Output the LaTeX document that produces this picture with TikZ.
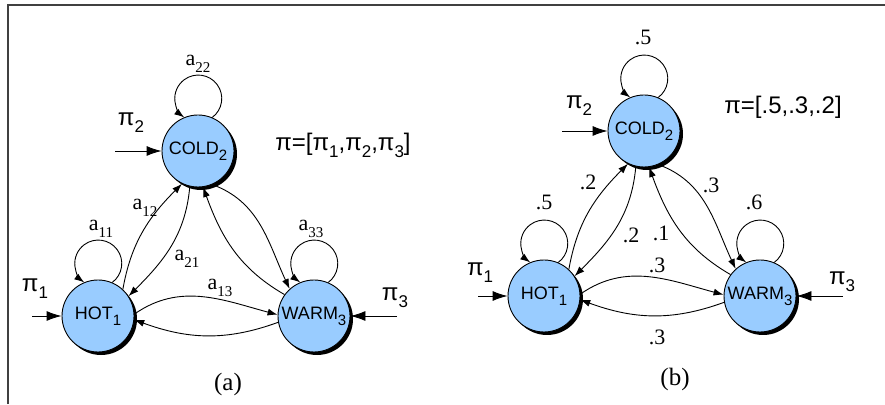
\documentclass[tikz,border=0pt]{standalone}
\usepackage{fontspec}
\setmainfont{Liberation Sans}
\newfontfamily\serif{Liberation Serif}
\usetikzlibrary{arrows.meta,shadows}
\definecolor{stateblue}{HTML}{99CCFF}
\newcommand\nsub[1]{\raisebox{-6pt}{\fontsize{15}{15}\selectfont #1}}
\newcommand\lsub[1]{\raisebox{-7pt}{\fontsize{15}{15}\selectfont #1}}
\newcommand\psub[1]{\raisebox{-7pt}{\fontsize{17}{17}\selectfont #1}}
\begin{document}
\begin{tikzpicture}[x=1pt,y=1pt,
  state/.style={circle,draw,line width=0.9pt,fill=stateblue,minimum size=72pt,inner sep=0pt,
    font=\fontsize{18}{18}\selectfont,
    drop shadow={shadow xshift=3pt,shadow yshift=-3pt,fill=black,opacity=1}},
  lab/.style={font=\serif\fontsize{22}{22}\selectfont,inner sep=0pt},
  caplab/.style={font=\serif\fontsize{25}{25}\selectfont,inner sep=0pt},
  pilab/.style={font=\fontsize{24}{24}\selectfont,inner sep=0pt},
  tr/.style={-{Latex[length=10pt,width=7pt]},line width=0.9pt},
  init/.style={-{Latex[length=15pt,width=10pt]},line width=0.9pt},
  frameline/.style={line width=1.3pt,black!75}]
\useasboundingbox (0,0) rectangle (885,404);
\draw[frameline] (8,0) -- (8,399) -- (885,399);

% ---------- panel (a) ----------
\node[state] (cA) at (198,253) {COLD\nsub{2}};
\node[state] (hA) at (98,88) {HOT\nsub{1}};
\node[state] (wA) at (314,88) {WARM\nsub{3}};

\draw[tr] (hA.47) to[out=80,in=225] (cA.244);
\draw[tr] (cA.257) to[out=265,in=45] (hA.33);
\draw[tr] (wA.144) to[out=150,in=290] (cA.278);
\draw[tr] (cA.293) to[out=-20,in=115] (wA.132);
\draw[tr] (hA.3) to[out=35,in=165] (wA.178);
\draw[tr] (wA.190) to[out=200,in=-20] (hA.-6);

\draw[tr] (cA.67) arc[start angle=-53.5,end angle=233.5,radius=23.5];
\draw[tr] (hA.67) arc[start angle=-53.5,end angle=233.5,radius=23.5];
\draw[tr] (wA.67) arc[start angle=-53.5,end angle=233.5,radius=23.5];

\coordinate (i2A) at (115,253); \draw[init] (i2A) -- (cA);
\coordinate (i1A) at (32,88);   \draw[init] (i1A) -- (hA);
\coordinate (i3A) at (397,88);  \draw[init] (i3A) -- (wA);

\node[pilab] (p2A) at (131,281) {π\psub{2}};
\node[pilab] (p1A) at (35,115) {π\psub{1}};
\node[pilab] (p3A) at (395,106) {π\psub{3}};
\node[pilab] (piA) at (343,259) {π=[π\psub{1},π\psub{2},π\psub{3}]};

\node[lab] (l22) at (198,340) {a\lsub{22}};
\node[lab] (l11) at (101,175) {a\lsub{11}};
\node[lab] (l33) at (311,175) {a\lsub{33}};
\node[lab] (l12) at (145,196) {a\lsub{12}};
\node[lab] (l21) at (187,145) {a\lsub{21}};
\node[lab] (l13) at (220,116) {a\lsub{13}};
\node[caplab] (capA) at (228,20) {(a)};

% ---------- panel (b) ----------
\node[state] (cB) at (644,273) {COLD\nsub{2}};
\node[state] (hB) at (544,108) {HOT\nsub{1}};
\node[state] (wB) at (760,108) {WARM\nsub{3}};

\draw[tr] (hB.47) to[out=80,in=225] (cB.244);
\draw[tr] (cB.257) to[out=265,in=45] (hB.33);
\draw[tr] (wB.144) to[out=150,in=290] (cB.278);
\draw[tr] (cB.293) to[out=-20,in=115] (wB.132);
\draw[tr] (hB.3) to[out=35,in=165] (wB.178);
\draw[tr] (wB.190) to[out=200,in=-20] (hB.-6);

\draw[tr] (cB.67) arc[start angle=-53.5,end angle=233.5,radius=23.5];
\draw[tr] (hB.67) arc[start angle=-53.5,end angle=233.5,radius=23.5];
\draw[tr] (wB.67) arc[start angle=-53.5,end angle=233.5,radius=23.5];

\coordinate (i2B) at (562,273); \draw[init] (i2B) -- (cB);
\coordinate (i1B) at (478,108); \draw[init] (i1B) -- (hB);
\coordinate (i3B) at (843,108); \draw[init] (i3B) -- (wB);

\node[pilab] (p2B) at (579,298) {π\psub{2}};
\node[pilab] (p1B) at (480,131) {π\psub{1}};
\node[pilab] (p3B) at (842,122) {π\psub{3}};
\node[pilab] (piB) at (783,297) {π=[.5,.3,.2]};

\node[lab] (m22) at (643,367) {.5};
\node[lab] (m11) at (544,202) {.5};
\node[lab] (m33) at (754,202) {.6};
\node[lab] (m12) at (588,222) {.2};
\node[lab] (m21) at (631,169) {.2};
\node[lab] (m31) at (661,171) {.1};
\node[lab] (m23) at (711,219) {.3};
\node[lab] (m13) at (657,139) {.3};
\node[lab] (m32) at (657,67) {.3};
\node[caplab] (capB) at (675,25) {(b)};
\end{tikzpicture}
\end{document}
